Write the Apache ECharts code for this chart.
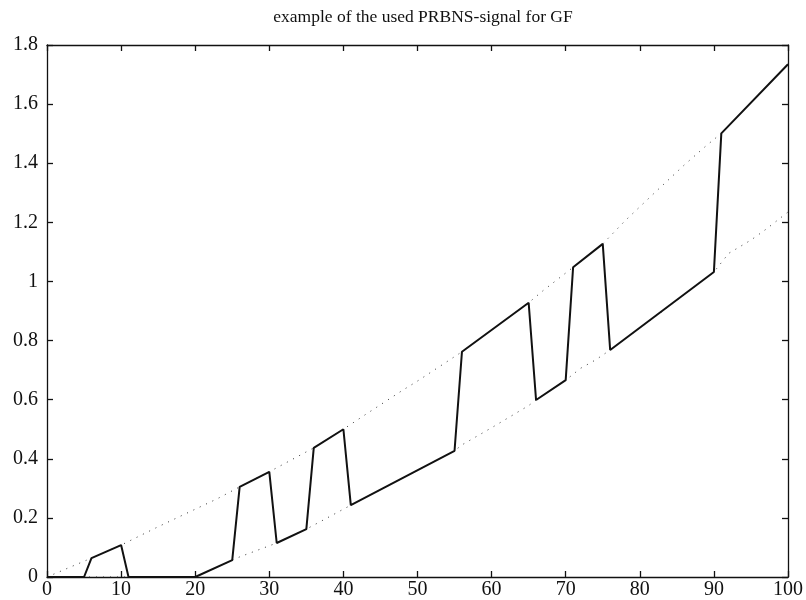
<!DOCTYPE html>
<html>
<head>
<meta charset="utf-8">
<script src="https://cdn.jsdelivr.net/npm/echarts@6/dist/echarts.min.js"></script>
<style>
  html, body { margin: 0; padding: 0; background: #fff; }
  #chart { width: 806px; height: 600px; }
</style>
</head>
<body>
<div id="chart"></div>
<script>
// PRBNS test signal (solid) and its two level trajectories (dotted)
const signalX = [0, 5, 6, 10, 11, 20, 25, 26, 30, 31, 35, 36, 40, 41, 55, 56, 65, 66, 70, 71, 75, 76, 90, 91, 100];
const signalY = [0, 0, 0.064, 0.108, 0, 0, 0.057, 0.305, 0.356, 0.115, 0.162, 0.437, 0.500, 0.243, 0.427, 0.762, 0.928, 0.599, 0.666, 1.048, 1.127, 0.768, 1.032, 1.501, 1.735];

const upperX = [0, 6, 10, 15, 23, 26, 30, 36, 40, 43, 48, 50, 56, 65, 67, 71, 75, 78, 82, 86, 89, 91, 100];
const upperY = [0, 0.064, 0.108, 0.17, 0.265, 0.305, 0.356, 0.437, 0.500, 0.55, 0.632, 0.663, 0.762, 0.928, 0.97, 1.048, 1.127, 1.205, 1.30, 1.394, 1.46, 1.501, 1.735];

const lowerX = [0, 20, 25, 26, 31, 35, 41, 55, 56, 60, 63, 65, 66, 70, 72, 74, 76, 83, 90, 92, 95, 97, 100];
const lowerY = [0, 0, 0.057, 0.068, 0.115, 0.162, 0.243, 0.427, 0.447, 0.505, 0.55, 0.58, 0.599, 0.666, 0.706, 0.734, 0.768, 0.898, 1.032, 1.095, 1.14, 1.176, 1.235];

const titleText = 'example of the used PRBNS-signal for GF';
const xTicks = { min: 0, max: 100, interval: 10 };
const yTicks = { min: 0, max: 1.8, interval: 0.2 };

const pairs = (xs, ys) => xs.map((x, i) => [x, ys[i]]);

const serif = '"Liberation Serif", "DejaVu Serif", serif';
const ink = '#111';

function boxAxis(kind, position, showLabels, ticks) {
  return {
    type: 'value',
    position: position,
    min: ticks.min,
    max: ticks.max,
    interval: ticks.interval,
    axisLine: { show: true, onZero: false, lineStyle: { color: ink, width: 1.3 } },
    axisTick: { show: true, inside: true, length: 6, lineStyle: { color: ink, width: 1.3 } },
    splitLine: { show: false },
    axisLabel: {
      show: showLabels,
      color: ink,
      fontFamily: serif,
      fontSize: 20,
      margin: kind === 'x' ? 3 : 9,
      showMinLabel: true,
      showMaxLabel: true
    }
  };
}

const chart = echarts.init(document.getElementById('chart'), null, { renderer: 'canvas' });
chart.setOption({
  backgroundColor: '#fff',
  animation: false,
  title: {
    text: titleText,
    left: 418,
    textAlign: 'center',
    top: 3,
    textStyle: { fontFamily: serif, fontSize: 17.5, fontWeight: 'normal', color: ink }
  },
  grid: { left: 47, right: 17, top: 45, bottom: 23 },
  xAxis: [
    boxAxis('x', 'bottom', true, xTicks),
    boxAxis('x', 'top', false, xTicks)
  ],
  yAxis: [
    boxAxis('y', 'left', true, yTicks),
    boxAxis('y', 'right', false, yTicks)
  ],
  series: [
    {
      type: 'line',
      data: pairs(upperX, upperY),
      symbol: 'none',
      lineStyle: { color: '#333', width: 1, type: [1, 6] },
      z: 1
    },
    {
      type: 'line',
      data: pairs(lowerX, lowerY),
      symbol: 'none',
      lineStyle: { color: '#333', width: 1, type: [1, 6] },
      z: 1
    },
    {
      type: 'line',
      data: pairs(signalX, signalY),
      symbol: 'none',
      lineStyle: { color: ink, width: 2 },
      z: 3
    }
  ]
});
</script>
</body>
</html>
